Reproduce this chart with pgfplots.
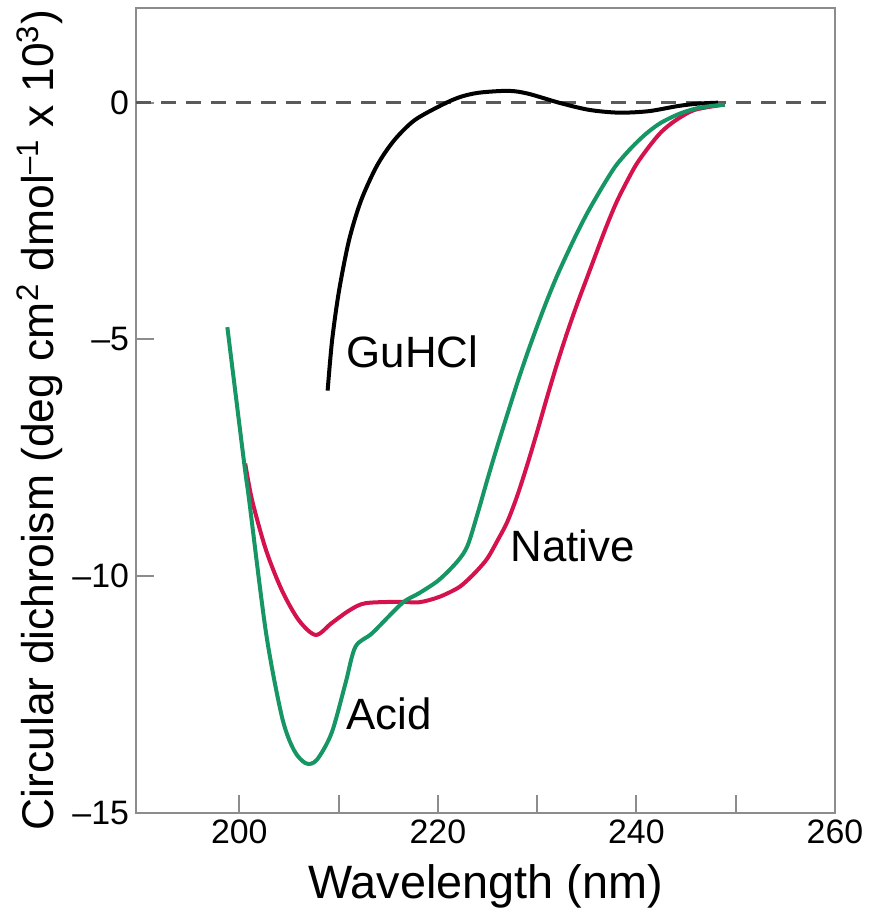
\documentclass[border=0pt]{standalone}
\usepackage{fontspec}
\setmainfont{Liberation Sans}
\usepackage{pgfplots}
\pgfplotsset{compat=1.18}
\definecolor{acidgreen}{RGB}{22,150,100}
\definecolor{nativered}{RGB}{212,18,78}
\definecolor{axgray}{RGB}{140,140,140}
\definecolor{dashgray}{RGB}{90,90,90}
\begin{document}
\begin{tikzpicture}
\useasboundingbox (0,0) rectangle (439bp,454bp);
\begin{axis}[
  at={(68bp,47.5bp)}, anchor=south west,
  width=349.5bp, height=402.5bp, scale only axis,
  xmin=189.6, xmax=260, ymin=-15, ymax=2,
  axis line style={axgray, line width=1bp},
  xtick={200,220,240,260}, minor xtick={210,230,250},
  ytick={-15,-10,-5,0}, yticklabels={–15,–10,–5,0},
  xtick pos=lower, ytick pos=left,
  tick align=inside, major tick length=9bp, minor tick length=9bp,
  every tick/.style={axgray, line width=1bp},
  every minor tick/.style={axgray, line width=1bp},
  /pgf/number format/assume math mode=true,
  ticklabel style={font=\fontsize{17}{20}\selectfont},
  xlabel={Wavelength (nm)},
  ylabel={Circular dichroism (deg cm\textsuperscript{2} dmol\textsuperscript{–1} x 10\textsuperscript{3})},
  xlabel style={font=\fontsize{23.5}{27}\selectfont, at={(axis description cs:0.5,-0.091)}, anchor=center},
  ylabel style={font=\fontsize{22.3}{26}\selectfont, at={(axis description cs:-0.137,0.488)}, anchor=center},
  clip=false,
]
\addplot[dashgray, line width=1.3bp, dash pattern=on 7.5bp off 5bp] coordinates {(189.6,0) (260,0)};
% GuHCl
\addplot[black, line width=2bp, smooth, tension=0.5] coordinates {
(208.9,-6.08) (209.35,-5.02) (210.05,-3.97) (211.05,-2.91) (212.26,-2.07)
(213.87,-1.33) (215.58,-0.80) (217.59,-0.38) (220.1,-0.08) (222.1,0.11)
(224.1,0.21) (227.1,0.25) (229.1,0.19) (232.2,0.0) (235.2,-0.15)
(238.2,-0.21) (241.2,-0.18) (244.2,-0.07) (246.2,-0.02) (248.2,0.0)
};
% Native
\addplot[nativered, line width=2bp, smooth, tension=0.5] coordinates {
(200.6,-7.62) (201.3,-8.40) (202.7,-9.45) (204.3,-10.30) (206.0,-10.93)
(207.7,-11.24) (209.3,-10.99) (211.1,-10.72) (212.7,-10.57) (216.1,-10.54)
(218.1,-10.55) (220.1,-10.44) (222,-10.25) (223,-10.08) (224,-9.87)
(225,-9.62) (226,-9.25) (227,-8.85) (228,-8.3) (229,-7.65) (230,-6.95)
(231,-6.22) (232,-5.52) (233,-4.87) (234,-4.27) (235,-3.71) (236,-3.15)
(237,-2.6) (238,-2.1) (239,-1.68) (240,-1.3) (241.3,-0.92) (242.5,-0.62)
(243.9,-0.38) (245.9,-0.15) (248.9,-0.04)
};
% Acid
\addplot[acidgreen, line width=2bp, smooth, tension=0.5] coordinates {
(198.8,-4.74) (200.5,-7.62) (201.0,-8.40) (202.7,-11.2) (204.3,-12.97)
(205.5,-13.67) (206.7,-13.95) (207.8,-13.88) (209.3,-13.31) (210.7,-12.26)
(211.7,-11.49) (213.4,-11.20) (216.4,-10.57) (218.1,-10.36) (220.1,-10.08)
(222,-9.68) (223,-9.35) (224,-8.68) (225,-7.95) (226,-7.25) (227,-6.58)
(228,-5.92) (229,-5.3) (230,-4.72) (231,-4.17) (232,-3.66) (233,-3.2)
(234,-2.76) (235,-2.35) (236,-1.98) (237,-1.63) (238,-1.31) (239.5,-0.95)
(241,-0.65) (242.5,-0.42) (244.5,-0.22) (246.5,-0.1) (248.9,-0.04)
};
\node[anchor=west, font=\fontsize{22}{26}\selectfont] at (axis cs:210.1,-5.27) {GuHCl};
\node[anchor=west, font=\fontsize{22}{26}\selectfont] at (axis cs:226.6,-9.35) {Native};
\node[anchor=west, font=\fontsize{22}{26}\selectfont] at (axis cs:210.1,-12.9) {Acid};
\end{axis}
\end{tikzpicture}
\end{document}
